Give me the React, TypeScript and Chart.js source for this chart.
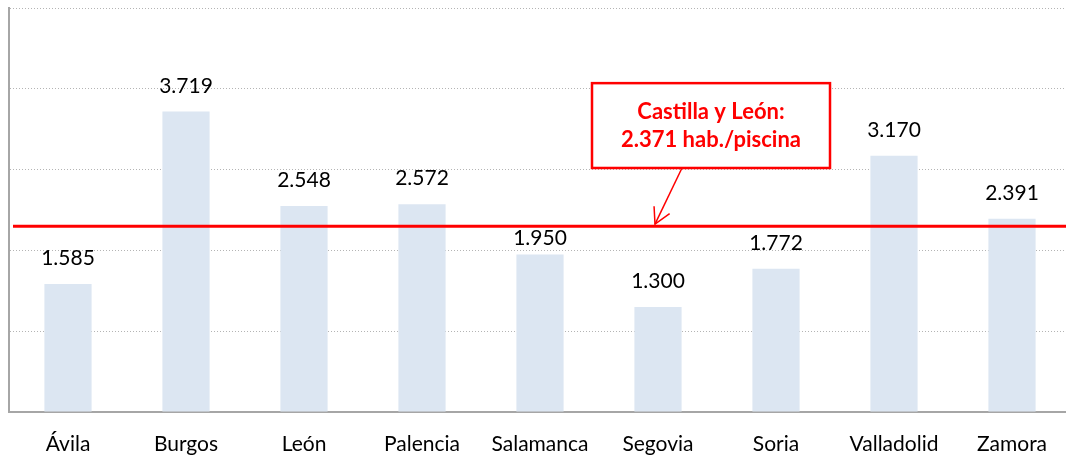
import React, { useEffect, useRef } from "react";
import { Chart, registerables } from "chart.js";

Chart.register(...registerables);

const provinces = ["Ávila", "Burgos", "León", "Palencia", "Salamanca", "Segovia", "Soria", "Valladolid", "Zamora"];
const habPorPiscina = [1585, 3719, 2548, 2572, 1950, 1300, 1772, 3170, 2391];
const yTicks = [0, 1000, 2000, 3000, 4000, 5000];
const referenceLineValue = 2300;
const annotationLines = ["Castilla y León:", "2.371 hab./piscina"];

const fmt = (v: number) => {
  const s = String(Math.round(v));
  return s.replace(/\B(?=(\d{3})+(?!\d))/g, ".");
};

const overlayPlugin = {
  id: "overlay",
  afterDatasetsDraw(chart: any) {
    const { ctx, chartArea, scales } = chart;
    const meta = chart.getDatasetMeta(0);
    const ly = scales.y.getPixelForValue(referenceLineValue);
    ctx.save();
    // data labels
    ctx.fillStyle = "#000000";
    ctx.font = "21px Lato";
    ctx.textAlign = "center";
    ctx.textBaseline = "alphabetic";
    meta.data.forEach((bar: any, i: number) => {
      let base = bar.y - 19;
      const top = base - 16;
      if (top < ly + 3 && base > ly - 3) base = Math.max(ly + 19, bar.y - 9);
      ctx.fillText(fmt(habPorPiscina[i]), bar.x, base);
    });
    // reference line
    ctx.strokeStyle = "#ff0000";
    ctx.lineWidth = 3;
    ctx.beginPath();
    ctx.moveTo(chartArea.left + 4, ly);
    ctx.lineTo(chartArea.right, ly);
    ctx.stroke();
    // annotation box
    const cx = (scales.x.getPixelForValue(5) + scales.x.getPixelForValue(6)) / 2 - 6;
    const bw = 238;
    const bTop = scales.y.getPixelForValue(4070);
    const bBot = scales.y.getPixelForValue(3020);
    const bx = cx - bw / 2;
    ctx.fillStyle = "#ffffff";
    ctx.fillRect(bx, bTop, bw, bBot - bTop);
    ctx.lineWidth = 2.5;
    ctx.strokeRect(bx, bTop, bw, bBot - bTop);
    ctx.fillStyle = "#ff0000";
    ctx.font = "bold 22px Lato";
    ctx.textBaseline = "middle";
    const mid = (bTop + bBot) / 2;
    ctx.fillText(annotationLines[0], cx, mid - 14);
    ctx.fillText(annotationLines[1], cx, mid + 14);
    // arrow
    const sx = cx - 29;
    const tipX = scales.x.getPixelForValue(5) - 3;
    const tipY = ly - 2;
    ctx.lineWidth = 1.5;
    ctx.beginPath();
    ctx.moveTo(sx, bBot);
    ctx.lineTo(tipX, tipY);
    ctx.stroke();
    const ang = Math.atan2(tipY - bBot, tipX - sx);
    const ah = 18;
    const spread = 0.5;
    ctx.beginPath();
    ctx.moveTo(tipX - ah * Math.cos(ang - spread), tipY - ah * Math.sin(ang - spread));
    ctx.lineTo(tipX, tipY);
    ctx.lineTo(tipX - ah * Math.cos(ang + spread), tipY - ah * Math.sin(ang + spread));
    ctx.stroke();
    ctx.restore();
  },
};

export default function App() {
  const ref = useRef<HTMLCanvasElement | null>(null);
  useEffect(() => {
    document.body.style.margin = "0";
    const chart = new Chart(ref.current as HTMLCanvasElement, {
      type: "bar",
      data: {
        labels: provinces,
        datasets: [
          {
            data: habPorPiscina,
            backgroundColor: "#dce6f2",
            barPercentage: 0.4,
            categoryPercentage: 1,
          },
        ],
      },
      options: {
        responsive: false,
        animation: false,
        layout: { padding: { top: 8, left: 9, right: 0, bottom: 5 } },
        plugins: { legend: { display: false }, tooltip: { enabled: false } },
        scales: {
          x: {
            afterFit: (s: any) => {
              s.height = 48;
            },
            grid: { display: false, drawTicks: false },
            border: { display: true, color: "#a6a6a6", width: 2 },
            ticks: { color: "#000000", font: { family: "Lato", size: 21 }, padding: 20, maxRotation: 0, autoSkip: false },
          },
          y: {
            min: yTicks[0],
            max: yTicks[yTicks.length - 1],
            afterFit: (s: any) => {
              s.width = 0;
            },
            afterBuildTicks: (s: any) => {
              s.ticks = yTicks.map((v) => ({ value: v }));
            },
            ticks: { display: false },
            grid: {
              drawTicks: false,
              color: (c: any) => (c.tick && c.tick.value === 0 ? "rgba(0,0,0,0)" : "#b4b4b4"),
              lineWidth: 1,
            },
            border: { display: true, color: "#a6a6a6", width: 2, dash: [1, 2] },
          },
        },
      },
      plugins: [overlayPlugin],
    });
    return () => chart.destroy();
  }, []);
  return (
    <div style={{ width: 1066, height: 457, overflow: "hidden", background: "#fff" }}>
      <canvas ref={ref} width={1071} height={465} />
    </div>
  );
}
